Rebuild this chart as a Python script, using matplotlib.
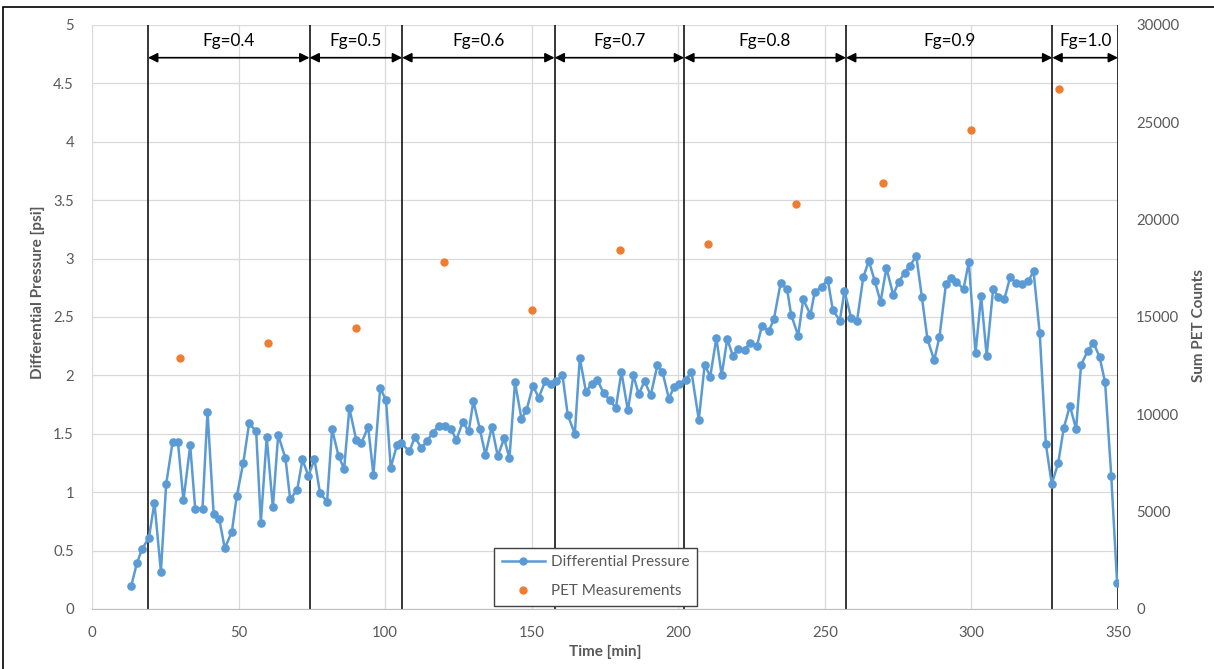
import numpy as np
import matplotlib
matplotlib.use("Agg")
import matplotlib.pyplot as plt
from matplotlib.lines import Line2D
from matplotlib.patches import Rectangle
from matplotlib.ticker import FuncFormatter

plt.rcParams['font.family'] = ['Lato', 'DejaVu Sans']

# differential pressure log (time in min, dp in psi)
time_min = [13.4, 15.3, 17.0, 19.4, 21.3, 23.5, 25.3, 27.5, 29.3, 31.2, 33.5, 35.2, 37.7, 39.4, 41.5, 43.4,
            45.3, 47.7, 49.4, 51.6, 53.6, 56.0, 57.6, 59.6, 61.7, 63.5, 66.0, 67.6, 70.0, 71.8, 73.8, 75.9,
            77.8, 80.2, 81.9, 84.1, 86.0, 87.8, 90.1, 91.9, 94.2, 96.0, 98.3, 100.3, 101.9, 104.0, 105.5, 108.3,
            110.1, 112.4, 114.4, 116.2, 118.3, 120.3, 122.4, 124.3, 126.5, 128.5, 130.1, 132.3, 134.2, 136.4,
            138.4, 140.6, 142.4, 144.3, 146.5, 148.2,
            150.4, 152.4, 154.6, 156.6, 158.3, 160.5, 162.3, 164.7, 166.4, 168.5, 170.5, 172.4, 174.5, 176.6,
            178.7, 180.6, 182.8, 184.7, 186.5, 188.5, 190.6, 192.9, 194.6, 196.8, 198.5, 200.1, 202.5, 204.5,
            207.0, 209.0, 210.9, 213.0, 214.8, 216.7,
            218.6, 220.5, 222.6, 224.5, 226.8, 228.5, 230.9, 232.6, 234.9, 237.1, 238.5, 240.9, 242.6, 245.1,
            246.5, 248.9, 251.0, 252.7, 255.1, 256.7, 259.0, 261.0, 263.1, 265.0, 267.0, 269.0, 271.0, 273.3,
            275.2, 277.2, 279.0, 281.2,
            283.1, 285.0, 287.3, 289.1, 291.3, 293.0, 294.9, 297.3, 299.1, 301.4, 303.3, 305.2, 307.4, 309.2,
            311.2, 313.2, 315.3, 317.3, 319.4, 321.2, 323.3, 325.4, 327.4, 329.6, 331.5, 333.6, 335.7, 337.4,
            339.7, 341.6, 343.7, 345.6, 347.7, 349.7]
dp_psi = [0.20, 0.39, 0.51, 0.61, 0.91, 0.32, 1.07, 1.43, 1.43, 0.93, 1.40, 0.86, 0.86, 1.69, 0.81, 0.77,
          0.52, 0.66, 0.97, 1.25, 1.59, 1.52, 0.74, 1.47, 0.87, 1.49, 1.29, 0.94, 1.02, 1.28, 1.14, 1.28,
          0.99, 0.92, 1.54, 1.31, 1.20, 1.72, 1.45, 1.42, 1.56, 1.15, 1.89, 1.79, 1.21, 1.40, 1.42, 1.35,
          1.47, 1.38, 1.44, 1.51, 1.57, 1.57, 1.54, 1.45, 1.60, 1.52, 1.78, 1.54, 1.32, 1.56,
          1.31, 1.46, 1.29, 1.94, 1.63, 1.70,
          1.91, 1.81, 1.95, 1.93, 1.95, 2.00, 1.66, 1.50, 2.15, 1.86, 1.93, 1.96, 1.85, 1.79,
          1.72, 2.03, 1.70, 2.00, 1.84, 1.95, 1.83, 2.09, 2.03, 1.80, 1.90, 1.93, 1.96, 2.03,
          1.62, 2.09, 1.99, 2.32, 2.00, 2.31,
          2.17, 2.23, 2.22, 2.28, 2.25, 2.42, 2.38, 2.48, 2.79, 2.74, 2.52, 2.34, 2.65, 2.52,
          2.71, 2.76, 2.82, 2.56, 2.47, 2.72, 2.49, 2.47, 2.84, 2.98, 2.81, 2.63, 2.92, 2.69,
          2.80, 2.88, 2.94, 3.02,
          2.67, 2.31, 2.13, 2.33, 2.78, 2.83, 2.80, 2.74, 2.97, 2.19, 2.68, 2.17, 2.74, 2.67,
          2.65, 2.84, 2.79, 2.78, 2.81, 2.89, 2.36, 1.41, 1.07, 1.25, 1.55, 1.74, 1.54, 2.09,
          2.21, 2.28, 2.16, 1.94, 1.14, 0.22]

# PET count sums
pet_time = [30, 60, 90, 120, 150, 180, 210, 240, 270, 300, 330]
pet_counts = [12900, 13650, 14450, 17800, 15350, 18450, 18750, 20800, 21900, 24600, 26700]

# gas fraction intervals
fg_bounds = [19.1, 74.2, 105.8, 157.8, 202.0, 257.2, 327.6, 350]
fg_labels = ['Fg=0.4', 'Fg=0.5', 'Fg=0.6', 'Fg=0.7', 'Fg=0.8', 'Fg=0.9', 'Fg=1.0']

blue = '#5b9bd5'
orange = '#ed7d31'
grey = '#595959'
grid = '#d9d9d9'

fig = plt.figure(figsize=(12.14, 6.69), dpi=100)
ax1 = fig.add_axes([92 / 1214, 1 - 609 / 669, 1026 / 1214, 584 / 669])
ax2 = ax1.twinx()

ax1.set_xlim(0, 350)
ax1.set_ylim(0, 5)
ax2.set_ylim(0, 30000)
ax1.set_xticks(np.arange(0, 351, 50))
ax1.set_yticks(np.arange(0, 5.01, 0.5))
ax2.set_yticks(np.arange(0, 30001, 5000))
ax1.yaxis.set_major_formatter(FuncFormatter(lambda v, p: '%g' % v))

ax1.grid(True, color=grid, linewidth=0.9)
ax1.set_axisbelow(True)
for ax in (ax1, ax2):
    for s in ax.spines.values():
        s.set_visible(False)
    ax.tick_params(length=0, colors=grey, labelsize=10.7)
ax1.spines['bottom'].set_visible(True)
ax1.spines['bottom'].set_color('#bfbfbf')
ax1.tick_params(axis='y', pad=13)
ax1.tick_params(axis='x', pad=12)
ax2.tick_params(axis='y', pad=13)

ax1.plot(time_min, dp_psi, color=blue, linewidth=1.8, marker='o', markersize=5.2, zorder=3)
ax2.plot(pet_time, pet_counts, linestyle='none', color=orange, marker='o', markersize=5, zorder=3)

# interval boundaries with arrows and labels
for x in fg_bounds:
    ax1.axvline(x, color='black', linewidth=1.1, zorder=2)
for a, b, lab in zip(fg_bounds[:-1], fg_bounds[1:], fg_labels):
    ax1.annotate('', xy=(b, 4.72), xytext=(a, 4.72),
                 arrowprops=dict(arrowstyle='<|-|>', color='black', lw=1.2,
                                 mutation_scale=14, shrinkA=0, shrinkB=0))
    ax1.text((a + b) / 2, 4.86, lab, ha='center', va='center', fontsize=12.3, color='black')

ax1.set_ylabel('Differential Pressure [psi]', fontsize=11, fontweight='bold', color=grey)
ax1.yaxis.set_label_coords(-0.046, 0.543)
ax2.set_ylabel('Sum PET Counts', fontsize=11, fontweight='bold', color=grey)
ax2.yaxis.set_label_coords(1.072, 0.486)
ax1.set_xlabel('Time [min]', fontsize=11, fontweight='bold', color=grey)
ax1.xaxis.set_label_coords(0.5, -0.062)

handles = [Line2D([], [], color=blue, linewidth=1.8, marker='o', markersize=5),
           Line2D([], [], color=orange, linestyle='none', marker='o', markersize=5)]
leg = ax2.legend(handles, ['Differential Pressure', 'PET Measurements'], loc='lower left',
                 bbox_to_anchor=(0.392, 0.005), borderaxespad=0, fontsize=11,
                 frameon=True, fancybox=False, edgecolor='#404040', framealpha=1,
                 handlelength=2.8, labelspacing=1.0, borderpad=0.5, handletextpad=0.4)
leg.get_frame().set_linewidth(1.0)
for t in leg.get_texts():
    t.set_color(grey)

# outer frame
fig.patches.append(Rectangle((3 / 1214, -0.1), 1.2, 1.1 - 7 / 669, transform=fig.transFigure,
                             fill=False, edgecolor='black', linewidth=1.2))

fig.savefig('out.png', dpi=100)
